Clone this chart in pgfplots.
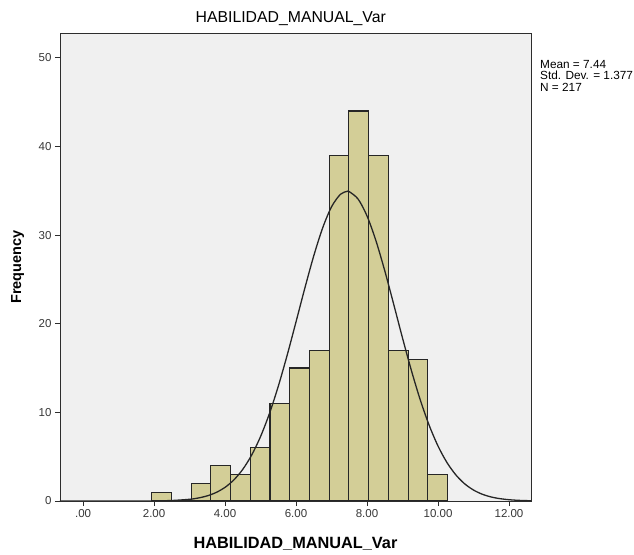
\documentclass[border=0pt]{standalone}
\usepackage{pgfplots}
\pgfplotsset{compat=1.18}
\usepackage{fontspec}
\setmainfont{Liberation Sans}
\definecolor{barfill}{RGB}{211,206,151}
\definecolor{plotbg}{RGB}{240,240,240}
\definecolor{ticktext}{RGB}{55,55,55}
\definecolor{frame}{RGB}{45,45,45}

\begin{document}
\begin{tikzpicture}[x=1pt,y=1pt]
\path[use as bounding box] (0,0) rectangle (634,554);
\begin{axis}[
  at={(60pt,53pt)}, anchor=south west,
  scale only axis, width=471pt, height=468pt,
  xmin=-0.65, xmax=12.62, ymin=0, ymax=52.8,
  axis background/.style={fill=plotbg},
  axis line style={draw=frame, line width=0.8pt},
  xtick={0,2,...,12},
  xticklabels={.00,2.00,4.00,6.00,8.00,10.00,12.00},
  ytick={0,10,...,50},
  tick align=outside, tick pos=left,
  major tick length=5pt,
  tick style={draw=frame, line width=0.8pt},
  ticklabel style={font=\fontsize{11.5}{13}\selectfont, text=ticktext},
  /pgf/number format/assume math mode=true,
  title={HABILIDAD\_MANUAL\_Var},
  title style={at={(axis description cs:0.49,1.017)}, anchor=center,
    font=\fontsize{15.8}{18}\selectfont},
  xlabel={HABILIDAD\_MANUAL\_Var},
  xlabel style={at={(axis description cs:0.5,-0.092)}, anchor=center,
    font=\bfseries\fontsize{16.3}{18}\selectfont},
  ylabel={Frequency},
  ylabel style={at={(axis description cs:-0.090,0.5)}, anchor=center,
    rotate=0, font=\bfseries\fontsize{14.5}{16}\selectfont},
  axis on top,
  clip=true,
]
% histogram counts per bin (left edges, last entry closes the final bin)
\addplot[ybar interval, fill=barfill, draw=black!85, line width=1.1pt]
  coordinates {(1.934,1) (2.490,0) (3.045,2) (3.601,4) (4.156,3) (4.712,6)
    (5.267,11) (5.823,15) (6.378,17) (6.934,39) (7.489,44) (8.045,39)
    (8.600,17) (9.156,16) (9.711,3) (10.267,3)};
% fitted normal curve (Mean 7.44, SD 1.377, N 217)
\addplot[smooth, black!85, line width=1.3pt] coordinates {
  (-0.65,0) (1.0,0.001) (1.5,0.003) (2.0,0.014) (2.5,0.056) (3.0,0.193)
  (3.25,0.341) (3.5,0.583) (3.75,0.964) (4.0,1.541) (4.25,2.387) (4.5,3.575)
  (4.75,5.183) (5.0,7.268) (5.25,9.862) (5.5,12.947) (5.75,16.449)
  (6.0,20.218) (6.25,24.044) (6.5,27.670) (6.75,30.809) (7.0,33.191)
  (7.25,34.599) (7.44,34.93) (7.5,34.897) (7.75,34.056) (8.0,32.157)
  (8.25,29.381) (8.5,25.973) (8.75,22.217) (9.0,18.386) (9.25,14.724)
  (9.5,11.409) (9.75,8.553) (10.0,6.203) (10.25,4.354) (10.5,2.957)
  (10.75,1.943) (11.0,1.236) (11.25,0.760) (11.5,0.452) (11.75,0.261)
  (12.0,0.145) (12.25,0.078) (12.5,0.041) (12.62,0.030)};
\end{axis}
\node[anchor=north west, align=left, inner sep=0pt,
  font=\fontsize{11.8}{11.5}\selectfont] at (540,494)
  {Mean = 7.44\\Std. Dev. = 1.377\\N = 217};
\end{tikzpicture}
\end{document}
